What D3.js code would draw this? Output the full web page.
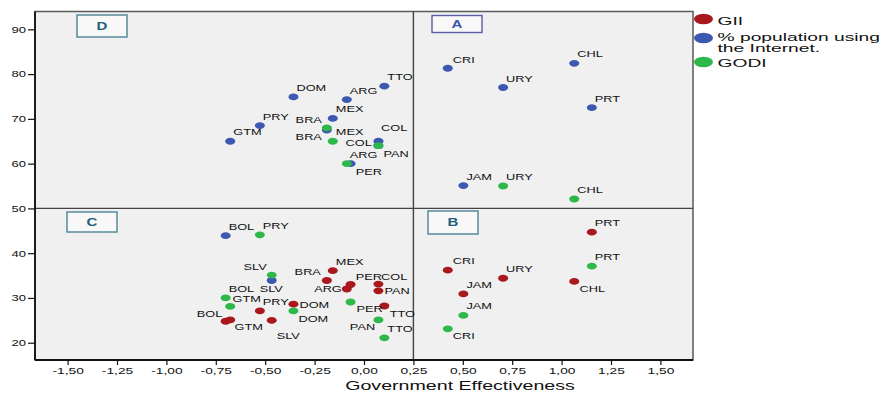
<!DOCTYPE html>
<html>
<head>
<meta charset="utf-8">
<script src="https://cdn.jsdelivr.net/npm/d3@7"></script>
<style>
  body { margin: 0; background: #fff; }
  svg { display: block; font-family: "Liberation Sans", Arial, sans-serif; }
</style>
</head>
<body>
<div class="canvas"></div>
<script>
// data
const countries = ['ARG', 'BOL', 'BRA', 'CHL', 'COL', 'CRI', 'DOM', 'GTM', 'JAM',
  'MEX', 'PAN', 'PER', 'PRY', 'PRT', 'SLV', 'TTO', 'URY'];
const govEffectiveness = [-0.087, -0.70, -0.188, 1.064, 0.073, 0.424, -0.357, -0.677, 0.503,
  -0.158, 0.073, -0.068, -0.527, 1.153, -0.467, 0.103, 0.704];
const internetUse = [74.3, 43.9, 67.5, 82.4, 65.0, 81.3, 74.9, 65.0, 55.1,
  70.1, 64.0, 60.0, 68.5, 72.5, 33.9, 77.3, 77.0];
const godi = [60.0, 30.0, 68.0, 52.1, 64.0, 23.1, 27.1, 28.1, 26.1,
  65.0, 25.1, 29.1, 44.1, 37.1, 35.1, 21.1, 55.0];
const gii = [32.0, 24.8, 33.9, 33.7, 33.1, 36.2, 28.6, 25.1, 30.9,
  36.1, 31.6, 33.0, 27.1, 44.7, 25.0, 28.2, 34.4];

const xTicks = [-1.5, -1.25, -1, -0.75, -0.5, -0.25, 0, 0.25, 0.5, 0.75, 1, 1.25, 1.5];
const yTicks = [20, 30, 40, 50, 60, 70, 80, 90];
const xTitle = 'Government Effectiveness';
const legendLabels = [['GII'], ['% population using', 'the Internet.'], ['GODI']];
const quadrantNames = ['A', 'B', 'C', 'D'];

// layout
const width = 884, height = 394;
const plot = { left: 35, right: 693, top: 11.5, bottom: 360 };
const colors = { gii: '#a8181c', internet: '#3d58b0', godi: '#2db84a' };

// quadrant tag boxes: x, y, w, h, stroke, text colour
const tagBoxes = {
  A: [432, 15.5, 50, 17, '#5c5ca8', '#3f55b0'],
  B: [428, 211, 50, 23, '#4d8296', '#21607a'],
  C: [67, 212, 50, 20, '#4d8296', '#21607a'],
  D: [77, 15, 50, 22, '#4d8296', '#21607a']
};

// label placement per point [dx, dy, anchor]; default is above right
const defaultPlace = [3, -6, 'start'];
const labelPlace = {
  internet: { BRA: [-5, -7.5, 'end'], COL: [2.7, -10.3, 'start'], PAN: [5, 11.5, 'start'],
    PER: [5.3, 11, 'start'], CRI: [5, -5.6, 'start'], SLV: [-12, 11.4, 'start'] },
  godi: { BRA: [-5, 12.3, 'end'], COL: [-6.6, 0.5, 'end'], SLV: [-5, -5, 'end'],
    DOM: [5, 10.6, 'start'], PER: [6, 10.3, 'start'], PAN: [-3.3, 10.3, 'end'],
    CRI: [5, 10, 'start'], GTM: [2.3, -4.6, 'start'] },
  gii: { DOM: [6, 3.3, 'start'], BOL: [-3.3, -4.3, 'end'], GTM: [4.3, 10.3, 'start'],
    SLV: [5, 19, 'start'], BRA: [-6, -5.3, 'end'], ARG: [-5, 2.7, 'end'],
    PER: [5.3, -4.3, 'start'], COL: [2.7, -4, 'start'], PAN: [6, 3.3, 'start'],
    TTO: [5.3, 10.7, 'start'], CHL: [5.3, 10.4, 'start'], CRI: [5, -6, 'start'] }
};

const svg = d3.select('.canvas')
  .append('svg')
  .attr('width', width)
  .attr('height', height);

const x = d3.scaleLinear().domain([-1.665, 1.665]).range([plot.left, plot.right]);
const y = d3.scaleLinear().domain([16.14, 93.98]).range([plot.bottom, plot.top]);

// the source image is stretched sideways, so text gets a horizontal scale
const stretchText = (g, px, py, str, size, sx, anchor = 'start', weight = 'normal', fill = '#111') =>
  g.append('text')
    .attr('transform', `translate(${px},${py}) scale(${sx},1)`)
    .attr('text-anchor', anchor)
    .attr('font-size', size)
    .attr('font-weight', weight)
    .attr('fill', fill)
    .text(str);

// plot background and frame
svg.append('rect')
  .attr('x', plot.left).attr('y', plot.top)
  .attr('width', plot.right - plot.left)
  .attr('height', plot.bottom - plot.top)
  .attr('fill', '#f0f0f0')
  .attr('stroke', '#5a5a5a')
  .attr('stroke-width', 1.5);

// quadrant split lines
svg.append('line')
  .attr('x1', x(0.25)).attr('x2', x(0.25))
  .attr('y1', plot.top).attr('y2', plot.bottom)
  .attr('stroke', '#444').attr('stroke-width', 1.4);
svg.append('line')
  .attr('x1', plot.left).attr('x2', plot.right)
  .attr('y1', y(50)).attr('y2', y(50))
  .attr('stroke', '#444').attr('stroke-width', 1.4);

// axes
const fmt = d3.formatLocale({ decimal: ',', thousands: '.', grouping: [3], currency: ['', ''], minus: '-' }).format('.2f');

const xAxis = svg.append('g')
  .attr('transform', `translate(0,${plot.bottom})`)
  .call(d3.axisBottom(x).tickValues(xTicks).tickFormat(fmt).tickSize(5).tickSizeOuter(0));
xAxis.select('.domain').remove();
xAxis.selectAll('line').attr('stroke', '#111').attr('stroke-width', 1.2);
xAxis.selectAll('text')
  .attr('font-size', 9)
  .attr('fill', '#111')
  .attr('y', 8)
  .attr('transform', 'scale(1.53,1)')
  .attr('font-family', null);

const yAxis = svg.append('g')
  .attr('transform', `translate(${plot.left},0)`)
  .call(d3.axisLeft(y).tickValues(yTicks).tickSize(7).tickSizeOuter(0));
yAxis.select('.domain').remove();
yAxis.selectAll('line').attr('stroke', '#111').attr('stroke-width', 1.2);
yAxis.selectAll('text')
  .attr('font-size', 9)
  .attr('fill', '#111')
  .attr('x', 0)
  .attr('transform', 'translate(-9,0) scale(1.45,1)')
  .attr('font-family', null);
xAxis.attr('font-family', null);
yAxis.attr('font-family', null);

// black axis lines on left and bottom
svg.append('line')
  .attr('x1', plot.left).attr('x2', plot.left)
  .attr('y1', plot.top).attr('y2', plot.bottom)
  .attr('stroke', '#111').attr('stroke-width', 1.8);
svg.append('line')
  .attr('x1', plot.left).attr('x2', plot.right)
  .attr('y1', plot.bottom).attr('y2', plot.bottom)
  .attr('stroke', '#111').attr('stroke-width', 1.8);

stretchText(svg, 460, 390, xTitle, 12.5, 1.57, 'middle');

// quadrant tags
quadrantNames.forEach(q => {
  const [bx, by, bw, bh, stroke, fill] = tagBoxes[q];
  svg.append('rect')
    .attr('x', bx).attr('y', by).attr('width', bw).attr('height', bh)
    .attr('fill', '#f8f8f8').attr('stroke', stroke).attr('stroke-width', 1.4);
  stretchText(svg, bx + bw / 2, by + bh / 2 + 3.6, q, 10, 1.5, 'middle', 'bold', fill);
});

// series, in drawing order
const series = [
  { key: 'gii', values: gii },
  { key: 'internet', values: internetUse },
  { key: 'godi', values: godi }
];

const points = series.flatMap(s => countries.map((c, i) => ({
  key: s.key, country: c, gov: govEffectiveness[i], value: s.values[i]
})));

svg.append('g').selectAll('ellipse')
  .data(points)
  .enter()
  .append('ellipse')
  .attr('cx', d => x(d.gov))
  .attr('cy', d => y(d.value))
  .attr('rx', 5)
  .attr('ry', 3.4)
  .attr('fill', d => colors[d.key]);

const labels = svg.append('g');
points.forEach(d => {
  const [dx, dy, anchor] = labelPlace[d.key][d.country] || defaultPlace;
  stretchText(labels, x(d.gov) + dx, y(d.value) + dy, d.country, 8.8, 1.45, anchor);
});

// legend
const legendKeys = ['gii', 'internet', 'godi'];
const legendDotY = [19, 38, 62];
const legendTextY = [25, 41, 67];
const legend = svg.append('g');
legendKeys.forEach((k, i) => {
  legend.append('ellipse')
    .attr('cx', 703.5).attr('cy', legendDotY[i])
    .attr('rx', 9.5).attr('ry', 5.2)
    .attr('fill', colors[k]);
  legendLabels[i].forEach((line, j) => {
    stretchText(legend, 717.5, legendTextY[i] + j * 10.7, line, 11, 1.75);
  });
});
</script>
</body>
</html>
